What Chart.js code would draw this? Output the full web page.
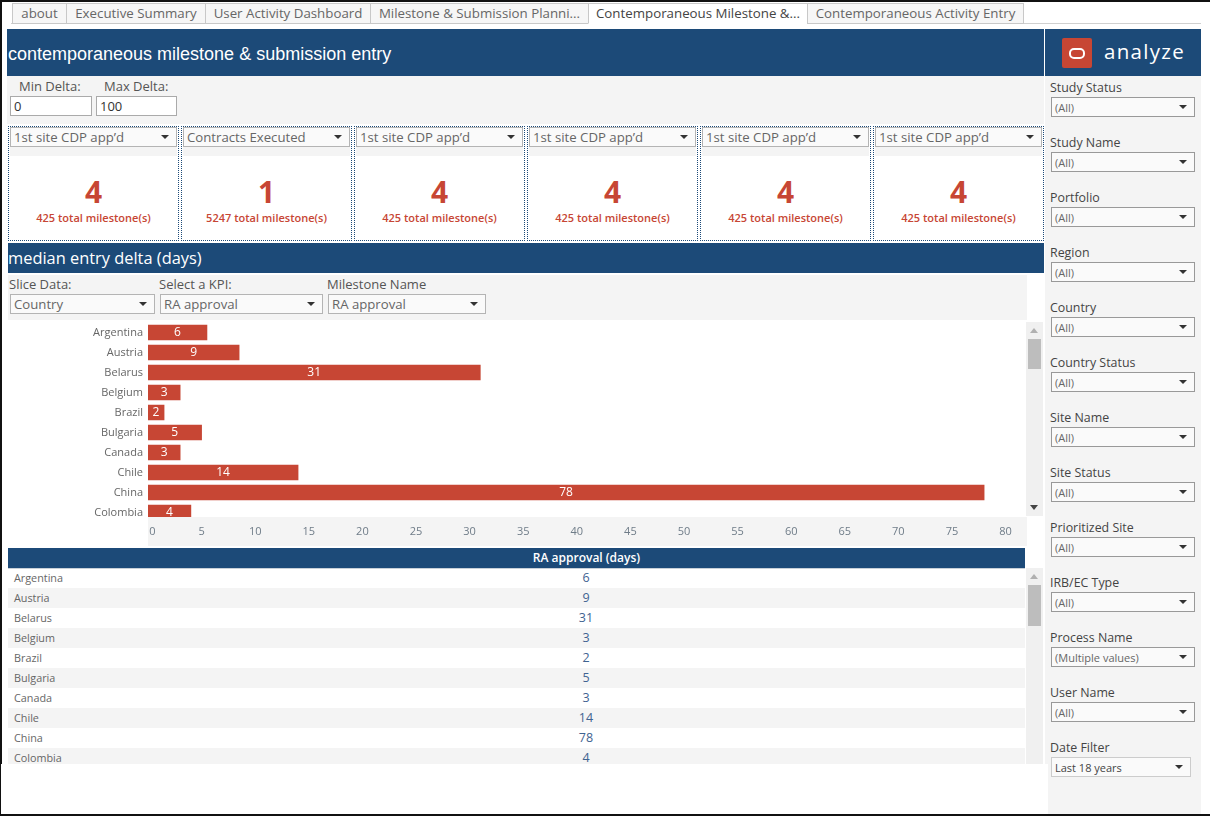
<!DOCTYPE html>
<html>
<head>
<meta charset="utf-8">
<script src="https://cdn.jsdelivr.net/npm/chart.js@4"></script>
<style>
html, body { margin: 0; padding: 0; background: #fff; }
body { width: 1210px; height: 816px; position: relative; overflow: hidden; font-family: "Open Sans", sans-serif; color: #555; }
.box { position: absolute; box-sizing: border-box; }
.txt { position: absolute; white-space: nowrap; line-height: 1; }
.blue { background: #1c4a78; }
.gray { background: #f4f4f4; }
.dd { position: absolute; box-sizing: border-box; height: 20px; background: #fafafa; border: 1px solid #b4b4b4; font-size: 13.2px; line-height: 18px; padding-left: 3px; color: #666; white-space: nowrap; }
.dd:after { content: ""; position: absolute; right: 7px; top: 7px; border-left: 4px solid transparent; border-right: 4px solid transparent; border-top: 4px solid #333; }
.side .dd { border-color: #999; font-size: 11px; line-height: 20px; }
.tab { position: absolute; box-sizing: border-box; top: 3px; height: 21px; background: #f6f6f6; border: 1px solid #c8c8c8; font-size: 13.3px; line-height: 19px; color: #666; text-align: center; white-space: nowrap; }
.card { position: absolute; box-sizing: border-box; top: 126px; height: 115px; border: 1px dotted #1c4a78; background: #fff; }
.row { position: absolute; left: 8px; width: 1017px; height: 20px; font-size: 10.8px; line-height: 20px; color: #666; }
.row span { position: absolute; left: 6px; }
.row b { position: absolute; left: 478px; width: 200px; text-align: center; font-weight: 400; font-size: 12.5px; color: #3f6391; }
.sb { position: absolute; left: 1026px; width: 17px; background: #f0f0f0; }
.thumb { position: absolute; left: 2px; width: 13px; background: #bdbdbd; }
.up, .down { position: absolute; left: 4px; border-left: 4.5px solid transparent; border-right: 4.5px solid transparent; }
.up { top: 6px; border-bottom: 5px solid #b0b0b0; }
.down { bottom: 6px; border-top: 5px solid #444; }
</style>
</head>
<body>
<div class="box" style="left:0;top:0;width:1210px;height:2px;background:#111"></div>
<div class="box" style="left:0;top:0;width:2px;height:764px;background:#111"></div>
<div class="box" style="left:0;top:764px;width:1px;height:52px;background:#111"></div>
<div class="box" style="left:0;top:814px;width:1210px;height:2px;background:#111"></div>

<div class="box" style="left:11px;top:23px;width:1190px;height:1px;background:#d0d0d0"></div>
<div id="tabs"></div>

<div class="box blue" style="left:7px;top:29px;width:1037px;height:47px"></div>
<div class="txt" style="left:8px;top:44px;font:18px 'Liberation Sans';color:#fff">contemporaneous milestone &amp; submission entry</div>
<div class="box blue" style="left:1045px;top:29px;width:156px;height:47px"></div>
<div class="box" style="left:1062px;top:38px;width:30px;height:30px;background:#c74634;border-radius:2px"></div>
<div class="box" style="left:1069px;top:48px;width:16px;height:11px;border:2px solid #fff;border-radius:5px"></div>
<div class="txt" style="left:1104px;top:41px;font-size:20.5px;color:#fff;letter-spacing:1.3px">analyze</div>

<div class="box gray" style="left:7px;top:76px;width:1037px;height:48px"></div>
<div class="txt" style="left:19px;top:80px;font-size:13px">Min Delta:</div>
<div class="txt" style="left:104px;top:80px;font-size:13px">Max Delta:</div>
<div class="box" style="left:10px;top:96px;width:82px;height:20px;background:#fff;border:1px solid #aaa;font-size:13px;line-height:18px;padding-left:3px;color:#333">0</div>
<div class="box" style="left:96px;top:96px;width:81px;height:20px;background:#fff;border:1px solid #aaa;font-size:13px;line-height:18px;padding-left:3px;color:#333">100</div>

<div id="cards"></div>

<div class="box blue" style="left:8px;top:243px;width:1036px;height:30px"></div>
<div class="txt" style="left:8px;top:250px;font-size:16.4px;color:#fff">median entry delta (days)</div>
<div class="box gray" style="left:8px;top:275px;width:1019px;height:45px"></div>
<div id="slicers"></div>

<div class="box" style="left:0;top:320px;width:1027px;height:228px">
  <canvas id="barChart" width="1027" height="228"></canvas>
</div>
<div class="sb" style="top:322px;height:194px"><div class="up"></div><div class="thumb" style="top:17px;height:30px"></div><div class="down"></div></div>

<div class="box" id="tableRows" style="left:0;top:568px;width:1026px;height:196px;overflow:hidden"></div>
<div class="box blue" style="left:8px;top:548px;width:1017px;height:21px;border-bottom:1px solid #c8d0d8;color:#fff;font-size:12px;font-weight:600;line-height:20px;text-align:center;padding-left:140px" id="tableHead"></div>
<div class="sb" style="top:568px;height:196px"><div class="up"></div><div class="thumb" style="top:17px;height:41px"></div></div>

<div class="box gray" style="left:1045px;top:76px;width:156px;height:688px"></div>
<div class="box gray" style="left:1048px;top:764px;width:153px;height:50px"></div>
<div class="side" id="filters"></div>

<script>
// tabs
var tabNames = ["about", "Executive Summary", "User Activity Dashboard", "Milestone & Submission Planni...", "Contemporaneous Milestone &...", "Contemporaneous Activity Entry"];
var tabEdges = [12, 66, 205, 370, 588, 807, 1023];

// kpi cards
var cardNames = ["1st site CDP app'd", "Contracts Executed", "1st site CDP app'd", "1st site CDP app'd", "1st site CDP app'd", "1st site CDP app'd"];
var cardValues = [4, 1, 4, 4, 4, 4];
var cardTotals = [425, 5247, 425, 425, 425, 425];

// chart data
var countries = ["Argentina", "Austria", "Belarus", "Belgium", "Brazil", "Bulgaria", "Canada", "Chile", "China", "Colombia"];
var deltaDays = [5.5, 8.5, 31, 3, 1.5, 5, 3, 14, 78, 4];
var deltaLabels = [6, 9, 31, 3, 2, 5, 3, 14, 78, 4];

// filters
var filterNames = ["Study Status", "Study Name", "Portfolio", "Region", "Country", "Country Status", "Site Name", "Site Status", "Prioritized Site", "IRB/EC Type", "Process Name", "User Name", "Date Filter"];
var filterValues = ["(All)", "(All)", "(All)", "(All)", "(All)", "(All)", "(All)", "(All)", "(All)", "(All)", "(Multiple values)", "(All)", "Last 18 years"];

function addEl(parentId, cls, css, text) {
	var el = document.createElement("div");
	el.className = cls;
	el.style.cssText = css;
	if (text !== undefined) el.textContent = text;
	document.getElementById(parentId).appendChild(el);
	return el;
}

tabNames.forEach(function (name, i) {
	var w = tabEdges[i + 1] - tabEdges[i];
	var active = i == 4;
	addEl("tabs", "tab", "left:" + tabEdges[i] + "px;width:" + (w + 1) + "px;" + (active ? "background:#fff;border-bottom-color:#fff;color:#444;" : ""), name);
});

var cardLefts = [9, 182, 355, 528, 701, 874];
cardNames.forEach(function (name, i) {
	var x = cardLefts[i];
	addEl("cards", "card", "left:" + (x - 1) + "px;width:171px");
	addEl("cards", "box gray", "left:" + (x + 1) + "px;top:128px;width:167px;height:28px");
	addEl("cards", "dd", "left:" + (x + 1) + "px;top:127px;width:167px;", name.replace("'", "\u2019"));
	addEl("cards", "txt", "left:" + (x - 1) + "px;width:171px;top:177px;text-align:center;font-size:30px;font-weight:700;color:#c74634", cardValues[i]);
	addEl("cards", "txt", "left:" + (x - 1) + "px;width:171px;top:212px;text-align:center;font-size:11px;font-weight:600;color:#c74634", cardTotals[i] + " total milestone(s)");
});

[["Slice Data:", "Country", 9, 10, 145], ["Select a KPI:", "RA approval", 159, 160, 163], ["Milestone Name", "RA approval", 327, 328, 158]].forEach(function (s) {
	addEl("slicers", "txt", "left:" + s[2] + "px;top:278px;font-size:13px", s[0]);
	addEl("slicers", "dd", "left:" + s[3] + "px;top:294px;width:" + s[4] + "px", s[1]);
});

filterNames.forEach(function (name, i) {
	var y = 82 + i * 55;
	var last = i == filterNames.length - 1;
	addEl("filters", "txt", "left:1050px;top:" + y + "px;font-size:12.4px;color:#444", name);
	addEl("filters", "dd", "left:1051px;top:" + (y + 15) + "px;width:" + (last ? 140 : 144) + "px;" + (last ? "border-color:#ccc;color:#444;" : ""), filterValues[i]);
});

document.getElementById("tableHead").textContent = "RA approval (days)";
countries.forEach(function (name, i) {
	var row = addEl("tableRows", "row", "top:" + (i * 20) + "px;background:" + (i % 2 ? "#f4f4f4" : "#fff"));
	var a = document.createElement("span");
	a.textContent = name;
	var b = document.createElement("b");
	b.textContent = deltaLabels[i];
	row.appendChild(a);
	row.appendChild(b);
});

// bar labels, then the axis strip that covers the cut off last row
var barExtras = {
	id: "barExtras",
	afterDatasetsDraw: function (chart) {
		var ctx = chart.ctx;
		ctx.save();
		ctx.fillStyle = "#fff";
		ctx.font = "12px 'Open Sans'";
		ctx.textAlign = "center";
		ctx.textBaseline = "middle";
		chart.getDatasetMeta(0).data.forEach(function (bar, i) {
			ctx.fillText(deltaLabels[i], (bar.base + bar.x) / 2, bar.y);
		});
		ctx.fillStyle = "#f4f4f4";
		ctx.fillRect(148, 197, 879, 29);
		ctx.restore();
	}
};

function noPadding(axis) {
	axis.paddingTop = 0;
	axis.paddingBottom = 0;
	axis.paddingLeft = 0;
	axis.paddingRight = 0;
}

new Chart("barChart", {
	type: "bar",
	data: {
		labels: countries,
		datasets: [{
			data: deltaDays,
			backgroundColor: "#c74634",
			barThickness: 15
		}]
	},
	plugins: [barExtras],
	options: {
		indexAxis: "y",
		responsive: false,
		animation: false,
		layout: { padding: { top: 2.5, left: 0, right: 0, bottom: 0 } },
		plugins: { legend: { display: false }, tooltip: { enabled: false } },
		scales: {
			x: {
				min: 0,
				max: 82,
				afterBuildTicks: function (axis) {
					axis.ticks = axis.ticks.filter(function (t) { return t.value <= 80; });
				},
				afterFit: function (axis) { axis.height = 25.5; noPadding(axis); },
				border: { display: false },
				grid: { display: false, drawTicks: false },
				ticks: {
					stepSize: 5, z: 1, padding: 3, maxRotation: 0, autoSkip: false,
					color: "#6f7c88", font: { family: "Open Sans", size: 11 },
					callback: function (value) { return value == 0 ? "   0" : value; }
				}
			},
			y: {
				afterFit: function (axis) { axis.width = 148; noPadding(axis); },
				border: { display: false },
				grid: { display: false, drawTicks: false },
				ticks: { padding: 5, color: "#666", font: { family: "Open Sans", size: 11 } }
			}
		}
	}
});
</script>
</body>
</html>
